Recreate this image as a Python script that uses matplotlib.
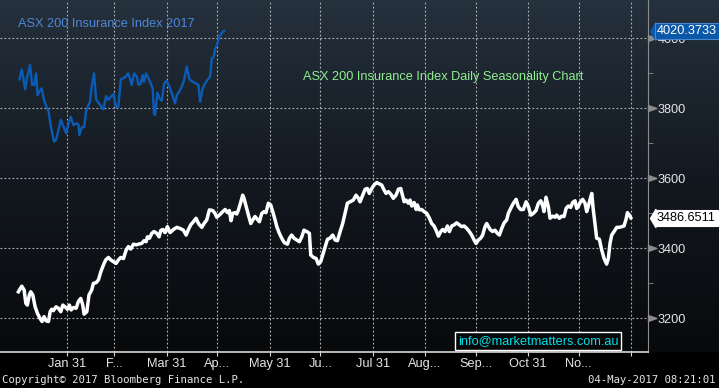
import numpy as np
import matplotlib
matplotlib.use('Agg')
import matplotlib.pyplot as plt
from matplotlib.colors import LinearSegmentedColormap
from matplotlib.path import Path
import matplotlib.transforms as mtransforms

# seasonality (average year), day of year -> index level
season_days = [2.2, 4.2, 5.6, 6.6, 7.5, 8.7, 9.5, 10.7, 12.1, 13.5,
	15.0, 16.2, 17.4, 18.6, 20.0, 21.0, 21.9, 22.9, 24.5, 25.9,
	27.3, 28.5, 29.8, 31.2, 32.4, 33.4, 34.8, 36.4, 37.7, 39.1,
	40.3, 41.1, 42.7, 44.0, 45.6, 46.6, 48.2, 49.6, 51.0, 52.5,
	53.9, 55.5, 56.9, 58.5, 60.0, 61.4, 62.8, 64.4, 66.0, 67.3,
	68.7, 70.3, 71.9, 73.3, 75.2, 76.6, 77.8, 78.6, 79.8, 81.2,
	82.5, 84.1, 85.5, 86.5, 87.7, 89.0, 90.4,
	92.0, 94.0, 96.0, 97.9, 99.9, 101.5, 102.9, 104.2, 105.8, 107.4,
	108.8, 110.8, 112.1, 113.7, 115.3, 117.3, 118.6, 119.6, 121.2, 123.2,
	124.6, 126.0, 127.1, 128.1, 129.1, 130.5, 131.5, 132.5, 133.8, 135.0,
	135.8, 137.0, 138.4, 139.8, 141.0, 142.3, 143.7, 144.9, 146.3, 147.7,
	148.8, 150.2, 151.6, 152.8, 154.2, 155.2, 156.7, 158.1, 159.7, 161.5,
	162.7, 164.0, 165.4, 167.0, 168.6, 170.0, 171.3, 172.9, 174.5, 175.3,
	176.9, 178.5, 179.8, 181.2, 182.4, 183.8, 185.2,
	186.7, 188.3, 189.7, 191.1, 192.7, 194.2, 195.6, 197.0, 198.6, 200.5,
	202.1, 203.5, 204.5, 206.1, 207.5, 208.8, 210.0, 211.4, 212.8, 214.4,
	215.9, 217.3, 218.7, 219.9, 221.3, 222.7, 224.2, 225.8, 227.2, 228.6,
	229.8, 230.6, 231.7, 233.1, 234.1, 235.1, 236.5, 237.7, 238.4, 239.6,
	241.0, 242.4, 244.0, 245.6, 246.9, 248.3, 249.5, 250.9, 252.3, 253.4,
	254.8, 256.2, 257.4, 258.8, 260.2, 261.7, 263.3, 264.7, 266.1, 267.7,
	269.2, 270.6, 272.0, 273.2, 274.6, 275.9, 277.1, 278.5, 279.5,
	281.5, 283.0, 284.4, 285.8, 287.0, 288.4, 289.8, 291.3, 292.3, 293.7,
	295.3, 296.9, 298.2, 299.6, 301.2, 302.8, 304.2, 305.6, 307.1, 308.7,
	310.1, 311.5, 312.7, 313.4, 314.6, 316.0, 317.0, 318.6, 320.0, 320.9,
	322.5, 323.9, 325.3, 326.5, 327.8, 329.2, 330.4, 331.8, 332.8, 333.8,
	334.8, 336.3, 337.7, 338.7, 339.7, 340.7, 341.7, 342.6, 343.6, 344.6,
	346.2, 347.6, 349.0, 350.5, 351.5, 352.5, 353.5, 354.9, 356.5, 358.0,
	359.4, 360.8, 362.0, 362.8, 364.0, 364.8]
season_vals = [3275, 3291, 3280, 3242, 3237, 3266, 3275, 3266, 3232, 3213,
	3199, 3190, 3204, 3192, 3190, 3218, 3225, 3221, 3232, 3228,
	3218, 3237, 3232, 3225, 3237, 3223, 3230, 3228, 3247, 3256,
	3237, 3211, 3218, 3266, 3280, 3299, 3301, 3309, 3332, 3351,
	3366, 3373, 3366, 3361, 3356, 3366, 3373, 3370, 3394, 3404,
	3397, 3411, 3409, 3411, 3413, 3421, 3418, 3432, 3428, 3442,
	3447, 3442, 3432, 3450, 3453, 3444, 3461,
	3444, 3453, 3459, 3456, 3451, 3437, 3453, 3466, 3475, 3485,
	3470, 3459, 3470, 3480, 3509, 3507, 3499, 3488, 3494, 3504,
	3510, 3501, 3507, 3478, 3499, 3501, 3497, 3509, 3530, 3551,
	3542, 3520, 3494, 3470, 3480, 3490, 3482, 3475, 3499, 3504,
	3501, 3528, 3523, 3504, 3480, 3461, 3442, 3428, 3415, 3411,
	3428, 3437, 3428, 3423, 3418, 3432, 3451, 3447, 3442, 3380,
	3373, 3370, 3354, 3361, 3380, 3402, 3425,
	3428, 3437, 3423, 3421, 3447, 3470, 3499, 3528, 3532, 3537,
	3551, 3542, 3532, 3551, 3568, 3570, 3556, 3570, 3580, 3587,
	3583, 3580, 3566, 3556, 3561, 3554, 3542, 3551, 3568, 3570,
	3547, 3532, 3537, 3528, 3537, 3520, 3530, 3510, 3523, 3509,
	3510, 3504, 3499, 3485, 3470, 3463, 3451, 3434, 3447, 3453,
	3447, 3463, 3447, 3463, 3466, 3472, 3466, 3461, 3463, 3456,
	3447, 3437, 3423, 3413, 3423, 3428, 3437, 3461, 3470,
	3453, 3447, 3451, 3442, 3437, 3456, 3472, 3480, 3499, 3513,
	3528, 3539, 3518, 3510, 3510, 3532, 3518, 3494, 3499, 3507,
	3528, 3535, 3520, 3504, 3545, 3518, 3485, 3491, 3488, 3494,
	3485, 3491, 3490, 3513, 3520, 3516, 3530, 3535, 3513, 3520,
	3530, 3539, 3528, 3504, 3520, 3539, 3556, 3509, 3470, 3428,
	3425, 3394, 3370, 3354, 3370, 3413, 3437, 3447, 3459, 3459,
	3461, 3463, 3482, 3501, 3494, 3486.6511]

# 2017 year to date
y2017_days = [2.8, 4.2, 6.2, 7.5, 9.1, 10.3, 11.5, 12.7, 13.5, 14.6,
	16.0, 17.4, 18.6, 20.0, 21.4, 23.3, 24.5, 25.9, 27.3, 28.9,
	30.4, 31.8, 33.2, 34.8, 36.4, 37.7, 38.3, 39.7, 41.1, 42.3,
	43.7, 44.6, 45.6, 47.0, 48.2, 49.6, 51.0, 52.5, 54.1, 55.5,
	56.9, 58.5, 60.0, 61.4, 62.8, 64.4, 66.0, 67.3,
	69.3, 70.7, 72.3, 73.3, 74.6, 75.8, 76.6, 77.8, 79.2, 80.6,
	81.7, 82.5, 83.1, 84.5, 85.7, 87.1, 88.5, 90.0, 91.6, 93.0,
	95.0, 96.0, 97.5, 98.9, 100.3, 101.9, 103.5, 105.4, 107.4, 108.8,
	109.8, 111.3, 112.7, 114.1, 115.7, 116.7, 117.7, 118.6, 120.0, 121.2,
	122.6, 124.0]
y2017_vals = [3882, 3910, 3853, 3891, 3923, 3866, 3866, 3899, 3837, 3847,
	3856, 3823, 3806, 3792, 3747, 3704, 3709, 3737, 3766, 3747,
	3728, 3754, 3775, 3751, 3756, 3754, 3723, 3745, 3745, 3792,
	3809, 3818, 3861, 3899, 3825, 3815, 3806, 3796, 3834, 3823,
	3832, 3840, 3802, 3804, 3882, 3885, 3891, 3899,
	3866, 3899, 3890, 3866, 3869, 3894, 3875, 3899, 3885, 3870,
	3856, 3783, 3780, 3844, 3828, 3821, 3870, 3878, 3861, 3842,
	3813, 3837, 3847, 3861, 3880, 3918, 3882, 3875, 3870, 3866,
	3818, 3856, 3870, 3880, 3890, 3942, 3945, 3966, 3985, 4004,
	4015, 4020.3733]

month_end_days = [31, 59, 90, 120, 151, 181, 212, 243, 273, 304, 334, 365]
month_labels = ['Jan 31', 'F...', 'Mar 31', 'Ap...', 'May 31', 'Ju...',
	'Jul 31', 'Aug...', 'Sep...', 'Oct 31', 'No...', '']
y_major = [3200, 3400, 3600, 3800, 4000]
y_minor = [3300, 3500, 3700, 3900]

W, H = 719, 388
fig = plt.figure(figsize=(W / 100, H / 100), dpi=100, facecolor='black')

# dark blue -> black background behind the plot
bg = fig.add_axes([0, 36 / H, 1, 352 / H], zorder=0)
cmap = LinearSegmentedColormap.from_list('bb', ['#08090b', '#131920', '#25313d'])
bg.imshow(np.linspace(0, 1, 256).reshape(-1, 1), aspect='auto', cmap=cmap,
	origin='lower', extent=[0, 1, 0, 1])
bg.axis('off')

ax = fig.add_axes([0, 36 / H, 648 / W, 352 / H], zorder=1)
ax.set_facecolor('none')
ax.set_xlim(-8.7, 375)
ax.set_ylim(3102.9, 4108.6)

ax.plot(season_days, season_vals, color='white', linewidth=2.5, solid_joinstyle='round', zorder=3)
ax.plot(y2017_days, y2017_vals, color='#0b5bb5', linewidth=1.7, solid_joinstyle='round', zorder=3)

for s in ['left', 'top']:
	ax.spines[s].set_visible(False)
ax.spines['right'].set_color('#8c8c8c')
ax.spines['bottom'].set_color('#d8d8d8')
ax.spines['bottom'].set_linewidth(1.2)

tfont = dict(family='Liberation Sans', size=9.2)

ax.set_xticks(month_end_days)
ax.set_xticklabels(month_labels, color='#e6e6e6', **tfont)
ax.tick_params(axis='x', length=3, color='#d8d8d8', pad=1.5)

ax.yaxis.tick_right()
ax.set_yticks(y_major)
ax.set_yticks(y_minor, minor=True)
ax.set_yticklabels([str(v) for v in y_major], color='#e6e6e6', **tfont)
ax.tick_params(axis='y', which='major', length=0, pad=7)
ax.tick_params(axis='y', which='minor', length=3.5, color='#8c8c8c', direction='out')

ax.grid(True, which='major', color='#b4b4b4', linestyle=(0, (1.6, 2.0)), linewidth=0.8)
ax.set_axisbelow(True)

# gray triangles on the major ticks
ytr = mtransforms.blended_transform_factory(ax.transAxes, ax.transData)
tri_right = Path([(0, -0.35), (1, 0), (0, 0.35), (0, -0.35)])
ax.plot([1] * len(y_major), y_major, linestyle='none', marker=tri_right, markersize=12,
	color='#8c8c8c', transform=ytr, clip_on=False, zorder=2)

# last value tags
tri_left = Path([(0, 0), (0.3, 0.5), (0.3, -0.5), (0, 0)])
tags = [(y2017_vals[-1], '#0b57a8', '#4a86d0', 'white'),
	(season_vals[-1], 'white', 'white', 'black')]
for val, fc, ec, tc in tags:
	tip = ytr + mtransforms.ScaledTranslation(2 / 100, 0, fig.dpi_scale_trans)
	ax.plot([1], [val], linestyle='none', marker=tri_left, markersize=13,
		color=fc, transform=tip, clip_on=False, zorder=6)
	ax.annotate('%.4f' % val, xy=(1, val), xycoords=ytr, xytext=(9, 0),
		textcoords='offset pixels', ha='left', va='center', color=tc, zorder=7,
		annotation_clip=False,
		bbox=dict(boxstyle='square,pad=0.15', fc=fc, ec=ec, lw=0.8), **tfont)

ax.text(18 / 648, 1 - 24 / 352, 'ASX 200 Insurance Index 2017', transform=ax.transAxes,
	ha='left', va='center', color='#4f86d8', **tfont)
ax.text(303 / 648, 1 - 77 / 352, 'ASX 200 Insurance Index Daily Seasonality Chart',
	transform=ax.transAxes, ha='left', va='center', color='#90ee90', **tfont)
ax.text(538 / 648, 1 - 341 / 352, 'info@marketmatters.com.au', transform=ax.transAxes,
	ha='center', va='center', color='#00e0e8', zorder=8,
	bbox=dict(boxstyle='square,pad=0.2', fc='#050607', ec='white', lw=1), **tfont)

mono = dict(family='DejaVu Sans Mono', size=7.7, color='#e6e6e6')
fig.text(2 / W, 1 - 380 / H, 'Copyright\u00a9 2017 Bloomberg Finance L.P.', ha='left', va='center', **mono)
fig.text(716 / W, 1 - 380 / H, '04-May-2017 08:21:01', ha='right', va='center', **mono)

fig.savefig('out.png', dpi=100, facecolor='black')
